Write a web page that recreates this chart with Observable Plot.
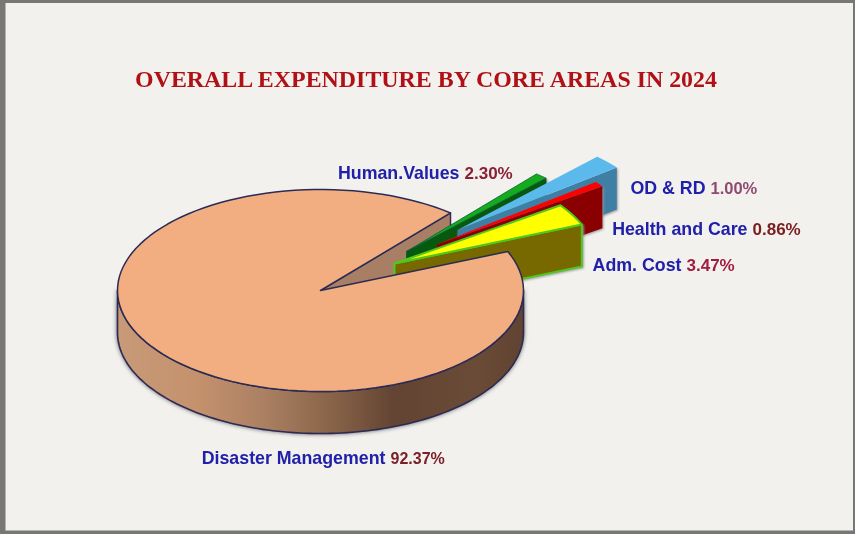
<!DOCTYPE html>
<html>
<head>
<meta charset="utf-8">
<script src="https://cdn.jsdelivr.net/npm/d3@7"></script>
<script src="https://cdn.jsdelivr.net/npm/@observablehq/plot@0.6"></script>
<style>
  html, body { margin: 0; padding: 0; background: #f2f1ee; }
  svg { display: block; filter: blur(0.35px); }
</style>
</head>
<body>
<div id="chart"></div>
<script>
// ---- data ----
const chartTitle = "OVERALL EXPENDITURE BY CORE AREAS IN 2024";
const categories = ["Disaster Management", "Adm. Cost", "Health and Care", "OD & RD", "Human.Values"];
const printedValues = [92.37, 3.47, 0.86, 1.00, 2.30];
// The wedges in the picture show OD & RD as the wider one and Human.Values as the thin one.
const wedgeShares = [92.37, 3.47, 0.86, 2.30, 1.00];

// ---- layout and style ----
const W = 855, H = 534;
const cx = 320, cy = 290, rx = 203, ry = 101, depth = 42;
const startAngle = 22.7;                      // degrees, counter-clockwise from 3 o'clock
const apexes = [[320, 290], [394, 263], [436, 244], [457, 229.5], [406, 251]];
const topFill = ["#f2ae80", "#ffff00", "#ff0000", "#5cb9ec", "#12ac1c"];
const sideFill = ["#a87f64", "#786800", "#8a0000", "#3f7fa6", "#07590f"];
const edgeStroke = ["#2b2b55", "#4fc81e", "none", "none", "#0b5a3a"];
const edgeWidth = [1.5, 2, 0, 0, 0.8];
const valueFill = ["#7a2028", "#a01c40", "#7a2020", "#8f4a72", "#8b2035"];
const labelY = [458, 265, 229, 188, 173];
const nameEnd = [385, 681, 747, 705, 459];
const valueSize = [16, 17, 17, 16.5, 17];
const nameSize = 17.8;

// ---- geometry derived from the shares ----
const rad = (d) => d * Math.PI / 180;
const total = d3.sum(wedgeShares);
const spans = [];
{
  let a = startAngle;
  // wedges run counter-clockwise from the start angle; the big slice closes the circle
  for (let i = 1; i < wedgeShares.length; ++i) {
    const sweep = wedgeShares[i] / total * 360;
    spans[i] = [a, a + sweep];
    a += sweep;
  }
  spans[0] = [a, startAngle + 360];
}
const rim = ([ax, ay], a) => ({x: ax + rx * Math.cos(rad(a)), y: ay - ry * Math.sin(rad(a))});
const down = (p) => ({x: p.x, y: p.y + depth});
const arc = (apex, a0, a1) => d3.range(0, 121).map((k) => rim(apex, a0 + (a1 - a0) * k / 120));
const apexPoint = ([x, y]) => ({x, y});
const closed = (pts) => [...pts, pts[0]];

const poly = (pts, o) => Plot.line(closed(pts), {x: "x", y: "y", stroke: "none", strokeLinejoin: "round", ...o});

function wedge(i) {
  const apex = apexes[i];
  const [a0, a1] = spans[i];
  const A = apexPoint(apex), P = rim(apex, a0);
  const stroke = edgeStroke[i], strokeWidth = edgeWidth[i];
  return [
    poly([A, P, down(P), down(A)], {fill: sideFill[i], stroke, strokeWidth, imageFilter: "drop-shadow(1px 1px 1px #9a9a9a)"}),
    poly([A, ...arc(apex, a0, a1)], {fill: topFill[i], stroke, strokeWidth})
  ];
}

function bigSlice() {
  const apex = apexes[0];
  const [a0, a1] = spans[0];
  const A = apexPoint(apex), E = rim(apex, a0);
  const front = arc(apex, 180, 360);
  return {
    wall: poly([A, E, down(E), down(A)], {fill: sideFill[0], stroke: edgeStroke[0], strokeWidth: 1.4}),
    outer: poly([...front, ...front.map(down).reverse()], {
      fill: "url(#rimGradient)", stroke: edgeStroke[0], strokeWidth: 1.6,
      imageFilter: "drop-shadow(0 0 2px #666)"
    }),
    top: poly([A, ...arc(apex, a0, a1)], {fill: topFill[0], stroke: edgeStroke[0], strokeWidth: 1.5})
  };
}

const gradientDefs = () => {
  const defs = d3.create("svg:defs");
  const g = defs.append("linearGradient").attr("id", "rimGradient");
  [[0, "#c89a78"], [0.2, "#c4916c"], [0.36, "#ab8063"], [0.52, "#8a6549"],
   [0.68, "#634433"], [0.88, "#6a4b37"], [1, "#604331"]].forEach(([o, c]) =>
    g.append("stop").attr("offset", o).attr("stop-color", c));
  return defs.node();
};

const big = bigSlice();
const labelRows = categories.map((name, i) => ({
  name, value: printedValues[i].toFixed(2) + "%", y: labelY[i], end: nameEnd[i],
  color: valueFill[i], size: valueSize[i]
}));
const textFont = {fontFamily: "Liberation Sans", fontWeight: "bold", lineAnchor: "middle"};
// Plot's fontSize takes one value per mark, so each percentage gets its own text mark.
const valueMarks = labelRows.map((d) => Plot.text([d], {
  x: (r) => r.end + 5, y: "y", text: "value", textAnchor: "start", fill: "color", fontSize: d.size, ...textFont
}));

const plot = Plot.plot({
  width: W, height: H,
  margin: 0,
  style: {background: "transparent"},
  x: {domain: [0, W], range: [0, W], axis: null},
  y: {domain: [0, H], range: [0, H], axis: null},
  marks: [
    gradientDefs,
    // picture frame
    Plot.rect([0], {x1: 0, x2: W, y1: 0, y2: H, fill: "#777775"}),
    Plot.rect([0], {x1: 5.5, x2: 853, y1: 3, y2: 530.5, fill: "#f2f1ee"}),
    // back to front
    big.wall,
    ...wedge(4),
    ...wedge(3),
    ...wedge(2),
    ...wedge(1),
    big.outer,
    big.top,
    // title
    Plot.text([chartTitle], {
      x: () => 425.5, y: () => 79, text: (d) => d, fill: "#b01116", fontSize: 23.9,
      fontFamily: "Liberation Serif", fontWeight: "bold", lineAnchor: "middle"
    }),
    // labels: blue name followed by its coloured percentage
    Plot.text(labelRows, {
      x: "end", y: "y", text: "name", textAnchor: "end", fill: "#2020aa", fontSize: nameSize, ...textFont
    }),
    ...valueMarks
  ],
  color: {type: "identity"}
});
document.getElementById("chart").appendChild(plot);
</script>
</body>
</html>
